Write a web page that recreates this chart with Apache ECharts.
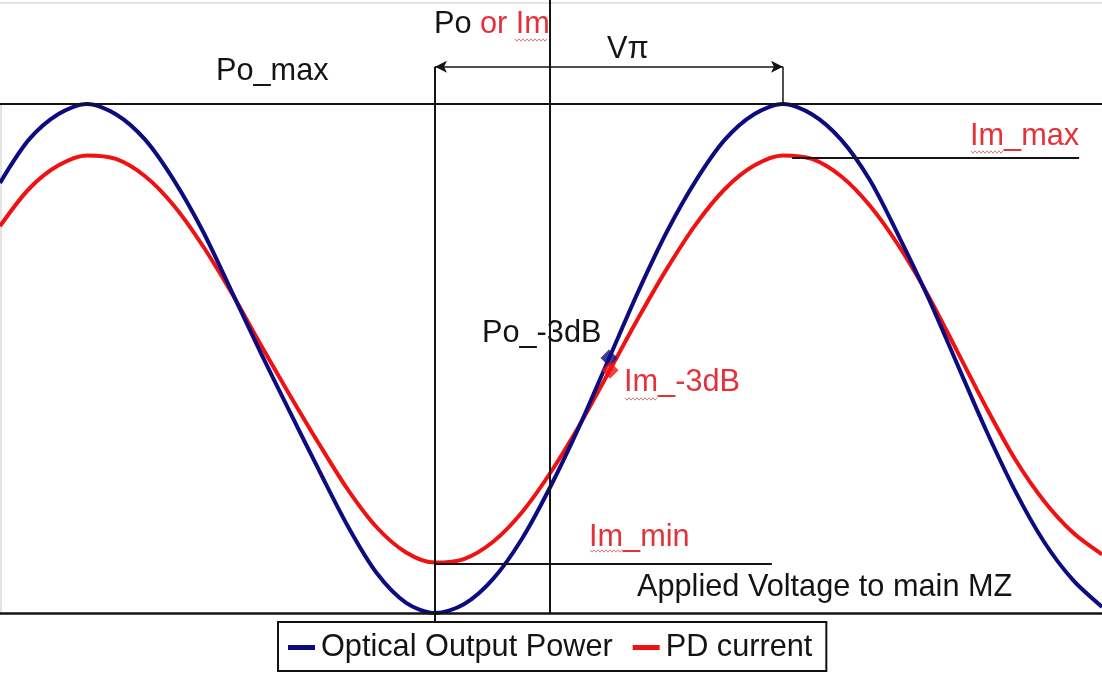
<!DOCTYPE html>
<html>
<head>
<meta charset="utf-8">
<script src="https://cdn.jsdelivr.net/npm/echarts@6/dist/echarts.min.js"></script>
<style>
  html, body { margin: 0; padding: 0; background: #fff; }
  #chart { width: 1102px; height: 678px; }
</style>
</head>
<body>
<div id="chart"></div>
<script>
// applied voltage, in units of V-pi (0 = transmission minimum)
const voltage = [
  -1.25, -1.167, -1.083, -1, -0.917, -0.833, -0.75, -0.667, -0.583, -0.5, -0.417, -0.333, -0.25,
  -0.167, -0.083, 0, 0.083, 0.167, 0.25, 0.333, 0.417, 0.5, 0.583, 0.667, 0.75, 0.833,
  0.917, 1, 1.083, 1.167, 1.25, 1.333, 1.417, 1.5, 1.583, 1.667, 1.75, 1.833, 1.917
];
// normalised optical output power (Po_max = 1)
const opticalPower = [
  0.845, 0.93, 0.98, 1.0, 0.98, 0.93, 0.85, 0.75, 0.63, 0.51, 0.395, 0.28, 0.17,
  0.078, 0.02, 0, 0.017, 0.067, 0.146, 0.25, 0.37, 0.50, 0.63, 0.75, 0.85, 0.93,
  0.98, 1.0, 0.98, 0.93, 0.85, 0.74, 0.62, 0.49, 0.36, 0.24, 0.14, 0.065, 0.012
];
// monitor PD current on the same scale
const pdCurrent = [
  0.76, 0.833, 0.879, 0.899, 0.892, 0.858, 0.80, 0.721, 0.627, 0.526, 0.428, 0.332, 0.242,
  0.168, 0.119, 0.099, 0.106, 0.14, 0.198, 0.277, 0.371, 0.474, 0.578, 0.677, 0.764, 0.833,
  0.879, 0.899, 0.892, 0.858, 0.80, 0.721, 0.624, 0.515, 0.405, 0.302, 0.22, 0.158, 0.115
];
// -3 dB points [voltage, level]
const po3dB = [0.5, 0.501];
const im3dB = [0.503, 0.477];
// reference levels
const poMax = 1, poMin = 0, imMax = 0.894, imMin = 0.096;
const vPi = 1, arrowLevel = 1.073, biasV = 0.33;

const BLUE = '#0c0c80', RED = '#f01212', RED_TEXT = '#e3323a', INK = '#141414';
const FONT = '"Liberation Sans", Arial, sans-serif';
const FS = 30.7;

const chart = echarts.init(document.getElementById('chart'));

function seg(x1, y1, x2, y2, extra) {
  return [Object.assign({ coord: [x1, y1] }, extra && extra[0]), Object.assign({ coord: [x2, y2] }, extra && extra[1])];
}

function txt(text, x, y, color) {
  return {
    type: 'text', x: x, y: y, silent: true,
    style: { text: text, fill: color || INK, font: FS + 'px ' + FONT, align: 'left', verticalAlign: 'middle' }
  };
}

// spell-check squiggle under "Im"
function squiggle(x0, x1, y) {
  const pts = [];
  for (let x = x0, i = 0; x <= x1; x += 2, i++) pts.push([x, y + (i % 2 ? 1.2 : -1.2)]);
  return { type: 'polyline', silent: true, shape: { points: pts }, style: { stroke: '#d77a7a', lineWidth: 1, fill: null } };
}

const option = {
  animation: false,
  grid: { left: 0, right: 0, top: 0, bottom: 0 },
  xAxis: { type: 'value', min: -1.25, max: 1.9167, show: false },
  yAxis: { type: 'value', min: -0.1277, max: 1.2043, show: false },
  legend: {
    data: ['Optical Output Power', 'PD current'],
    left: 278, top: 622,
    padding: [10, 14, 8, 10],
    borderColor: '#111', borderWidth: 2,
    backgroundColor: '#fff',
    icon: 'rect', itemWidth: 27, itemHeight: 5, itemGap: 20,
    textStyle: { fontSize: FS, fontFamily: FONT, color: INK, padding: [0, 0, 0, 1] }
  },
  series: [
    {
      name: 'Optical Output Power', type: 'line', smooth: 0.3, symbol: 'none',
      data: voltage.map((v, i) => [v, opticalPower[i]]),
      lineStyle: { color: BLUE, width: 4 }, itemStyle: { color: BLUE }, z: 3
    },
    {
      name: 'PD current', type: 'line', smooth: 0.3, symbol: 'none',
      data: voltage.map((v, i) => [v, pdCurrent[i]]),
      lineStyle: { color: RED, width: 4 }, itemStyle: { color: RED }, z: 2
    },
    {
      name: 'refs', type: 'scatter', symbol: 'diamond', symbolSize: 17,
      data: [
        { value: po3dB, itemStyle: { color: BLUE } },
        { value: im3dB, itemStyle: { color: RED } }
      ],
      z: 10,
      markLine: {
        silent: true, symbol: 'none', label: { show: false },
        lineStyle: { color: INK, width: 2, type: 'solid' },
        data: [
          seg(-1.25, poMax, 1.9167, poMax),
          seg(-1.25, poMin, 1.9167, poMin, [{ lineStyle: { width: 2.5 } }]),
          seg(0, arrowLevel, 0, -0.018),
          seg(biasV, 1.2043, biasV, poMin),
          seg(1.026, imMax, 1.851, imMax),
          seg(0, imMin, 0.968, imMin),
          seg(vPi, poMax, vPi, arrowLevel, [{ lineStyle: { width: 1.5 } }]),
          seg(0, arrowLevel, vPi, arrowLevel, [
            { symbol: 'arrow', symbolSize: [9, 12], lineStyle: { width: 1.5 } },
            { symbol: 'arrow', symbolSize: [9, 12] }
          ])
        ]
      }
    }
  ],
  graphic: [
    { type: 'line', silent: true, shape: { x1: 0, y1: 3, x2: 1102, y2: 3 }, style: { stroke: '#e2e2e2', lineWidth: 2 } },
    { type: 'line', silent: true, shape: { x1: 1, y1: 105, x2: 1, y2: 613 }, style: { stroke: '#c8c8c8', lineWidth: 1 } },
    txt('Po', 434, 25),
    txt('or Im', 480, 25, RED_TEXT),
    txt('Po_max', 216, 72),
    txt('V\u03c0', 607, 50),
    txt('Im_max', 970, 137, RED_TEXT),
    txt('Po_-3dB', 482, 334),
    txt('Im_-3dB', 624, 383, RED_TEXT),
    txt('Im_min', 589, 538, RED_TEXT),
    txt('Applied Voltage to main MZ', 637, 588),
    squiggle(515, 547, 40),
    squiggle(971, 1003, 152),
    squiggle(625, 657, 399),
    squiggle(590, 622, 551)
  ]
};

chart.setOption(option);
</script>
</body>
</html>
